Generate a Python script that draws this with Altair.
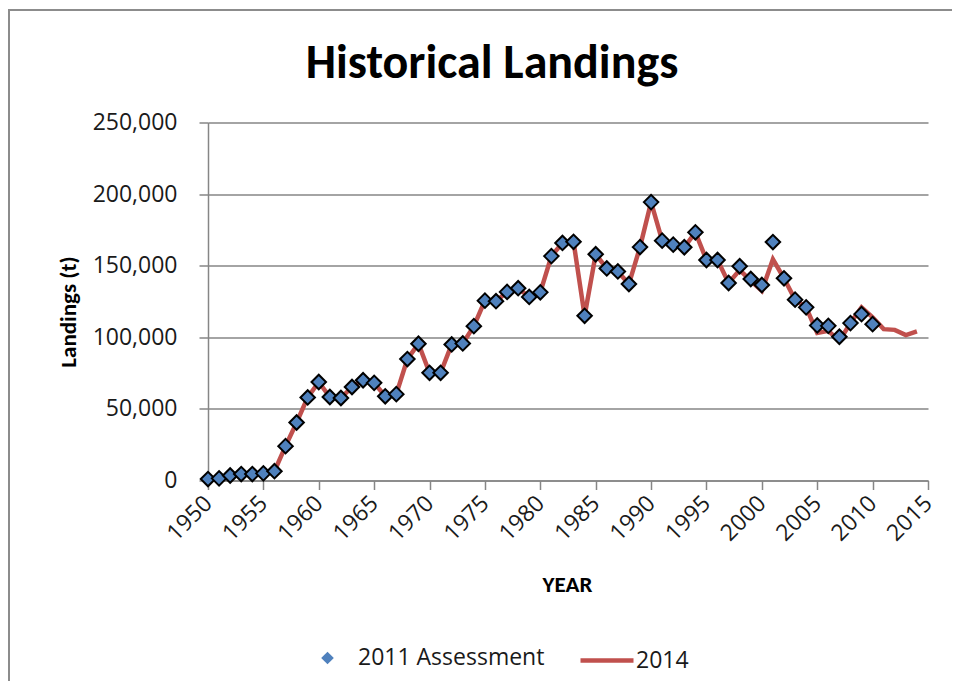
import altair as alt
import pandas as pd

# ---- data ----
years_2011 = list(range(1950, 2011))
assess_2011 = [
    1000, 1500, 3500, 4500, 4500, 5000, 6500, 24000, 40500, 58000,
    68800, 58300, 57600, 65300, 70000, 68200, 58800, 60300, 84800, 95500,
    75200, 75200, 95000, 95700, 107800, 125600, 125200, 131700, 134300, 128200,
    131400, 156700, 165900, 166700, 115000, 158000, 148100, 146000, 137200, 163000,
    194400, 167500, 164700, 162900, 173300, 154000, 154000, 137900, 149600, 140700,
    136500, 166500, 141200, 126300, 120900, 108300, 108000, 100400, 109900, 116200,
    109200,
]

years_2014 = list(range(1950, 2015))
landings_2014 = [
    1000, 1500, 3500, 4500, 4500, 5000, 6500, 24000, 40500, 58000,
    68800, 58300, 57600, 65300, 70000, 68200, 58800, 60300, 84800, 95500,
    75200, 75200, 95000, 95700, 107800, 125600, 125200, 131700, 134300, 128200,
    131400, 156700, 165900, 166700, 115000, 158000, 148100, 146000, 137200, 163000,
    194400, 167500, 164700, 162900, 173300, 154000, 154000, 137900, 147000, 139500,
    132500, 154500, 141200, 126300, 120900, 103000, 104500, 97500, 110000, 120900,
    114000, 105700, 105200, 101500, 104100,
]

x_ticks = list(range(1950, 2016, 5))
y_ticks = [0, 50000, 100000, 150000, 200000, 250000]

chart_title = "Historical Landings"
series_points = "2011 Assessment"
series_line = "2014"

df_pts = pd.DataFrame({"year": years_2011, "landings": assess_2011, "series": series_points})
df_line = pd.DataFrame({"year": years_2014, "landings": landings_2014, "series": series_line})

LABEL_FONT = "Open Sans"
TITLE_FONT = "Carlito, Lato"
GRID = "#868686"

x_enc = alt.X(
    "year:Q",
    scale=alt.Scale(domain=[1950, 2015], nice=False, zero=False),
    axis=alt.Axis(
        values=x_ticks, format="d", labelAngle=315, labelAlign="right", labelBaseline="middle",
        labelPadding=10, tickSize=9, grid=False, title="YEAR",
        titleFont=TITLE_FONT, titleFontSize=23, titleFontWeight="bold",
        titleX=359, titleY=104, titleBaseline="middle", titleAlign="center",
    ),
)
y_enc = alt.Y(
    "landings:Q",
    scale=alt.Scale(domain=[0, 250000], nice=False),
    axis=alt.Axis(
        values=y_ticks, format=",.0f", tickSize=9, labelPadding=22, grid=True,
        title="Landings (t)", titleFont=TITLE_FONT, titleFontSize=23, titleFontWeight="bold",
        titleX=-140, titleY=189, titleBaseline="middle", titleAlign="center", titleAngle=270,
    ),
)

one = pd.DataFrame({"k": [0]})

# outer chart-area border (only top and left edges are visible in the reference)
frame_top = alt.Chart(one).mark_rule(stroke="#8C8C8C", strokeWidth=2).encode(
    x=alt.value(-200), x2=alt.value(744), y=alt.value(-112.5)
)
frame_left = alt.Chart(one).mark_rule(stroke="#8C8C8C", strokeWidth=2).encode(
    x=alt.value(-199), y=alt.value(-113.5), y2=alt.value(563)
)

title = alt.Chart(one).mark_text(
    font=TITLE_FONT, fontSize=48, fontWeight="bold", align="center",
    baseline="alphabetic", color="#000000",
).encode(
    x=alt.value(284), y=alt.value(-44.5), text=alt.value(chart_title)
)

line = alt.Chart(df_line).mark_line(strokeWidth=4.5).encode(
    x=x_enc,
    y=y_enc,
    stroke=alt.Stroke(
        "series:N",
        scale=alt.Scale(domain=[series_line], range=["#C0504D"]),
        legend=alt.Legend(
            title=None, orient="none", legendX=370, legendY=509, padding=0,
            symbolType="stroke", symbolSize=2809, symbolStrokeWidth=4.5,
            labelOffset=0, labelLimit=300, labelFont=LABEL_FONT, labelFontSize=23,
            labelColor="#1a1a1a",
        ),
    ),
)

points = alt.Chart(df_pts).mark_point(
    filled=True, fill="#4F81BD", stroke="#000000", strokeWidth=2, size=210, opacity=1
).encode(
    x=alt.X("year:Q"),
    y=alt.Y("landings:Q"),
    shape=alt.Shape(
        "series:N",
        scale=alt.Scale(domain=[series_points], range=["diamond"]),
        legend=alt.Legend(
            title=None, orient="none", legendX=108, legendY=524, padding=0,
            symbolSize=160, symbolFillColor="#4F81BD", symbolStrokeColor="#2B4C7E",
            symbolStrokeWidth=1, symbolOpacity=1, labelLimit=300,
            labelOffset=19, labelFont=LABEL_FONT, labelFontSize=23, labelColor="#1a1a1a",
        ),
    ),
)

chart = alt.layer(frame_top, frame_left, title, line, points).properties(
    width=720,
    height=358,
    autosize=alt.AutoSizeParams(type="none"),
    padding={"left": 200, "top": 114.5, "right": 24, "bottom": 200},
).configure_view(stroke="transparent").configure_axis(
    labelFont=LABEL_FONT, labelFontSize=23, labelColor="#1a1a1a",
    domainColor=GRID, domainWidth=1.5, tickColor=GRID, tickWidth=1.5,
    gridColor=GRID, gridWidth=1.3, titleColor="#000000",
)

chart.save("out.html", embed_options={"renderer": "svg", "actions": False})
